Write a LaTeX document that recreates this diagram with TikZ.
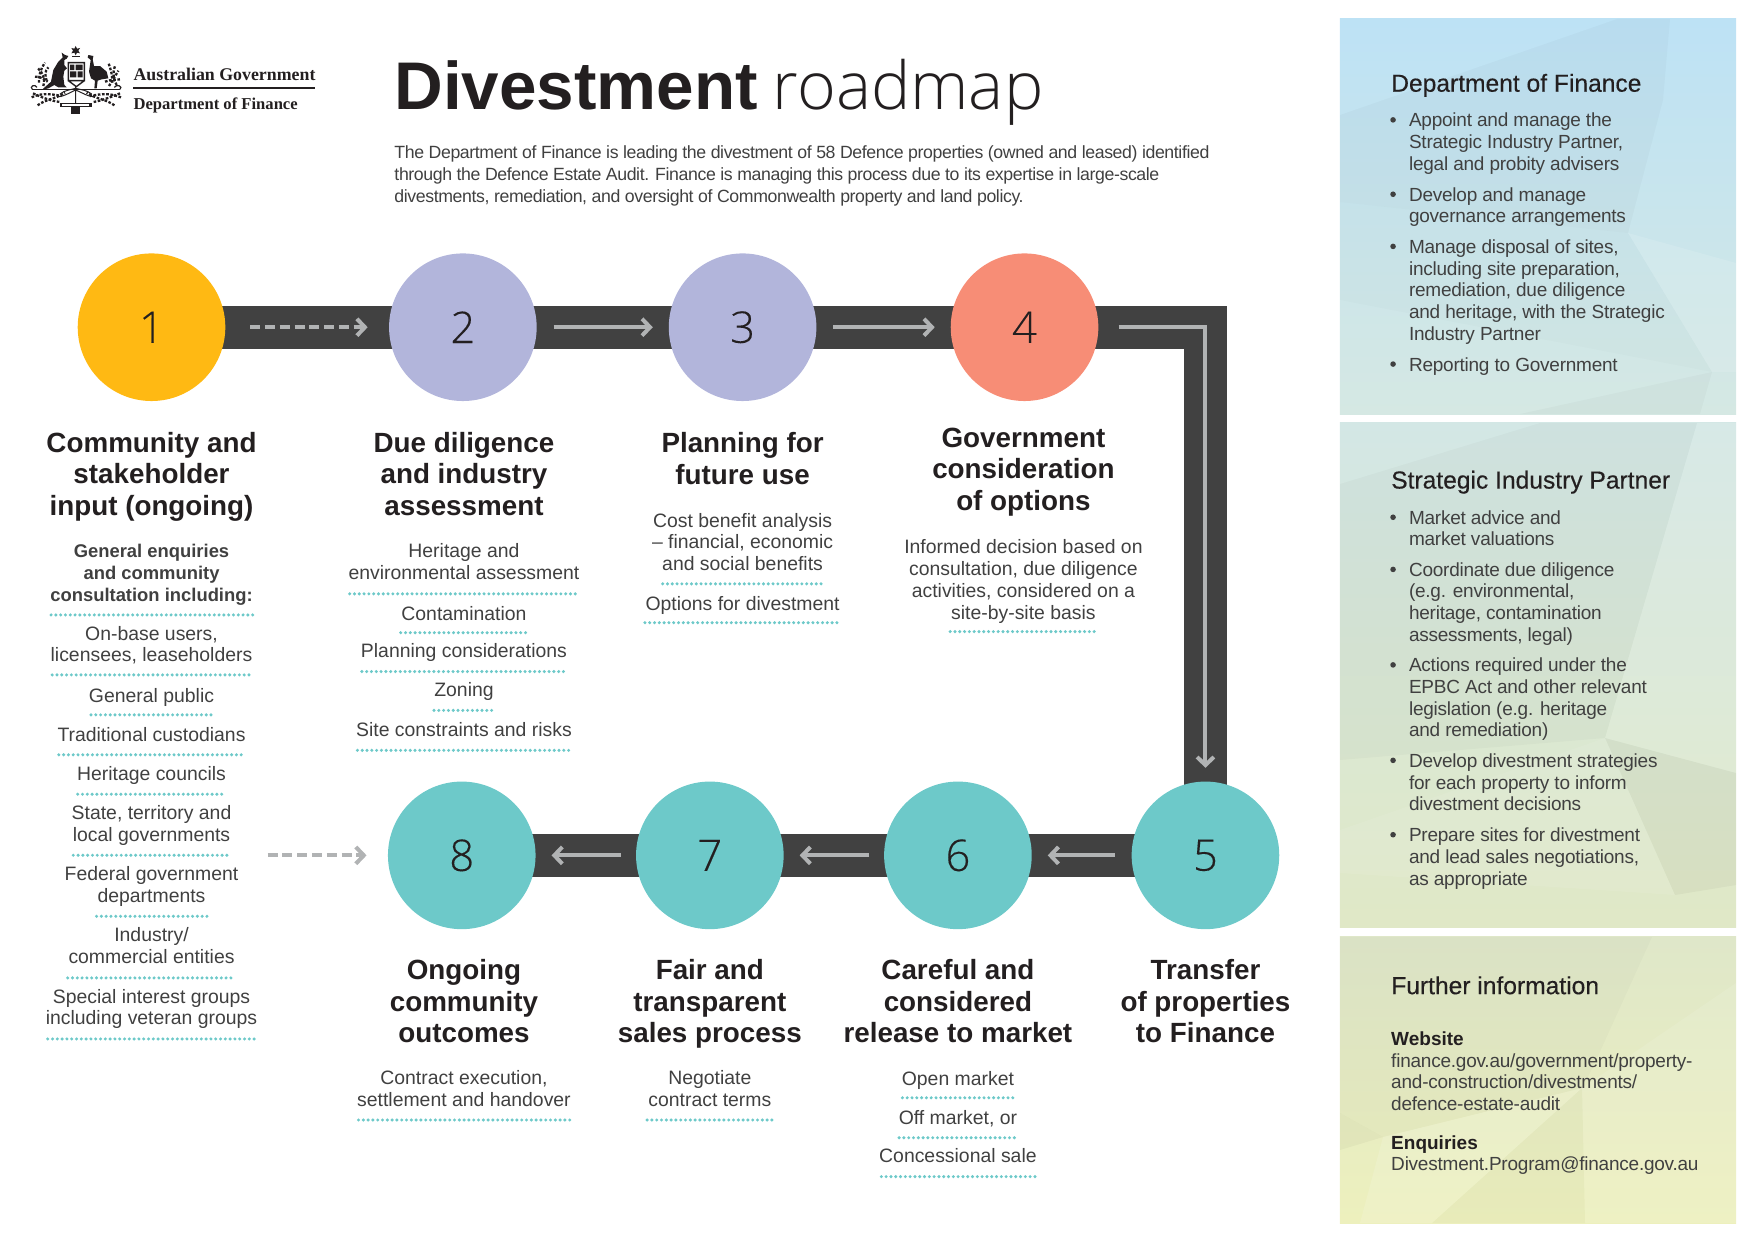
\documentclass[tikz,border=0pt]{standalone}
\usepackage{fontspec}
\usetikzlibrary{arrows.meta,backgrounds}
\setmainfont{Liberation Sans}
\newfontfamily\serifhead{Liberation Serif}
\newfontfamily\lightfont{Open Sans Light}
\newfontfamily\digitfont[FakeBold=0.2]{Open Sans Light}
\newfontfamily\medfont[FakeBold=0.3]{Liberation Sans}
\newfontfamily\leadfont[LetterSpace=-2.2]{Liberation Sans}
\newfontfamily\panelfont[LetterSpace=-1.2]{Liberation Sans}
\definecolor{ink}{HTML}{231F20}
\definecolor{bodyc}{HTML}{404040}
\definecolor{bandc}{HTML}{414141}
\definecolor{flowc}{HTML}{B1B3B4}
\definecolor{tealc}{HTML}{6DC9C9}
\definecolor{yelc}{HTML}{FFB913}
\definecolor{lavc}{HTML}{B2B5DB}
\definecolor{coralc}{HTML}{F78D76}
\definecolor{pa}{HTML}{BDE2F5}
\definecolor{pb}{HTML}{D5E8E3}
\definecolor{pc}{HTML}{D3E7E5}
\definecolor{pd}{HTML}{E0E8C6}
\definecolor{pe}{HTML}{DFE7C9}
\definecolor{pf}{HTML}{EDF0BD}
\tikzset{
 x=0.555pt,y=-0.555pt,
 stepc/.style={circle,minimum size=73.8pt,inner sep=0,font=\digitfont\fontsize{21.8}{22}\selectfont,text=ink},
 bandline/.style={bandc,line width=21.6pt},
 flow/.style={flowc,line width=2pt,-{Straight Barb[length=4pt,width=8.4pt,line width=2pt]}},
 flowd/.style={flow,dash pattern=on 5pt off 2.4pt},
 vfix/.style={execute at begin node={\rule{0pt}{1.1em}},execute at end node={\rule[-.33em]{0pt}{.33em}}},
 mline/.style={yshift=-1.66pt},
 head/.style={vfix,yshift=-2.7pt,align=center,font=\fontsize{13.9}{15.8}\bfseries\selectfont,text=ink,inner sep=0},
 txt/.style={vfix,align=center,font=\fontsize{9.7}{10.9}\selectfont,text=bodyc,inner sep=0},
 txtb/.style={vfix,mline,align=center,font=\fontsize{9.2}{11}\bfseries\selectfont,text=bodyc,inner sep=0},
 dots/.style={tealc,line width=1.7pt,line cap=round,dash pattern=on 0pt off 2.4pt},
 lead/.style={vfix,mline,align=left,anchor=west,font=\leadfont\fontsize{8.85}{10.85}\selectfont,text=bodyc,inner sep=0},
 phead/.style={vfix,yshift=.5pt,anchor=west,font=\medfont\fontsize{12.3}{14}\selectfont,text=ink,inner sep=0},
 pitem/.style={vfix,align=left,anchor=west,font=\panelfont\fontsize{9.5}{10.85}\selectfont,text=bodyc,inner sep=0},
 pbold/.style={vfix,anchor=west,font=\fontsize{9.5}{10.85}\bfseries\selectfont,text=ink,inner sep=0},
 pbul/.style={circle,fill=bodyc,minimum size=2.8pt,inner sep=0},
 dk/.style={fill=black,fill opacity=#1,draw=none},
 lt/.style={fill=white,fill opacity=#1,draw=none},
}
\begin{document}
\begin{tikzpicture}
\useasboundingbox (0,0) rectangle (1568.47,1118.92);
% ---------- side panels
\shade[top color=pa,bottom color=pb] (1207,17) rectangle (1564,373);
\shade[top color=pc,bottom color=pd] (1207,381) rectangle (1564,836);
\shade[top color=pe,bottom color=pf] (1207,844) rectangle (1564,1102);
\begin{scope}[x=0.5pt,y=-0.5pt]
 \begin{scope}
 \clip (1340,19) rectangle (1736,414);
 \path[dk=.022] (1340,115)--(1617,19)--(1670,19)--(1663,100)--(1628,233)--(1340,202)--cycle;
 \path[dk=.012] (1340,202)--(1628,233)--(1712,372)--(1340,300)--cycle;
 \path[lt=.12] (1628,233)--(1736,263)--(1736,372)--(1712,372)--cycle;
 \path[dk=.025] (1712,372)--(1520,414)--(1700,414)--cycle;
 \end{scope}
 \begin{scope}
 \clip (1340,423) rectangle (1736,928);
 \path[dk=.022] (1340,484)--(1540,423)--(1697,423)--(1605,738)--(1340,760)--cycle;
 \path[dk=.035] (1605,738)--(1736,773)--(1736,885)--(1675,895)--cycle;
 \path[lt=.08] (1340,830)--(1605,738)--(1675,895)--(1340,873)--cycle;
 \path[lt=.1] (1697,423)--(1736,423)--(1736,773)--(1605,738)--cycle;
 \end{scope}
 \begin{scope}
 \clip (1340,937) rectangle (1736,1223);
 \path[dk=.02] (1340,937)--(1652,937)--(1593,1067)--(1582,1088)--(1383,1137)--(1340,1113)--cycle;
 \path[lt=.1] (1582,1088)--(1736,983)--(1736,1223)--(1585,1223)--cycle;
 \path[dk=.02] (1432,1223)--(1582,1088)--(1585,1223)--cycle;
 \path[lt=.13] (1360,1223)--(1383,1137)--(1582,1088)--(1432,1223)--cycle;
 \path[dk=.03] (1340,1113)--(1383,1137)--(1340,1150)--cycle;
 \end{scope}
\end{scope}
% ---------- crest
\begin{scope}[x=0.1667pt,y=-0.1667pt,shift={(12.5pt,-20pt)}]
 \fill[ink] (110,38)--(120,45)--(130,48)--(125,56)--(118,60)--(118,75)--(126,85)--(118,92)--(115,110)--(118,135)--(125,142)--(100,142)--(88,135)--(70,145)--(50,150)--(78,125)--(85,90)--(100,65)--(113,52)--cycle;
 \fill[ink] (190,45)--(205,48)--(203,58)--(207,78)--(225,78)--(245,95)--(250,115)--(230,118)--(218,122)--(215,145)--(208,145)--(210,122)--(198,115)--(192,95)--(197,60)--(188,52)--cycle;
 \fill[ink] (152,18)--(156,26)--(165,24)--(160,32)--(165,40)--(156,38)--(152,46)--(148,38)--(139,40)--(144,32)--(139,24)--(148,26)--cycle;
 \fill[ink] (140,47) rectangle (164,51);
 \draw[ink,line width=.7pt] (130,68) rectangle (178,122) (178,122)--(154,140)--(130,122);
 \fill[ink] (135,74) rectangle (148,90) (152,74) rectangle (173,90) (135,94) rectangle (154,112) (158,94) rectangle (173,112);
 \draw[ink,line width=.6pt] (22,148)--(285,148);
 \draw[ink,line width=.6pt] (22,148) .. controls (12,140) and (30,130) .. (36,142);
 \draw[ink,line width=.6pt] (285,148) .. controls (295,140) and (275,130) .. (268,142);
 \begin{scope}[ink,line width=1.15pt,dash pattern=on 1.3pt off .8pt]
  \draw (42,128) .. controls (42,105) and (45,90) .. (60,68);
  \draw (55,138) .. controls (62,115) and (52,95) .. (36,82);
  \draw (65,122) .. controls (60,105) and (58,95) .. (70,82);
  \draw (30,110) .. controls (45,110) and (55,115) .. (68,125);
  \draw (262,128) .. controls (262,105) and (258,90) .. (250,68);
  \draw (252,138) .. controls (262,120) and (270,110) .. (280,92);
  \draw (240,125) .. controls (258,118) and (272,120) .. (285,118);
  \draw (275,135) .. controls (265,120) and (262,100) .. (270,78);
  \draw (20,172) .. controls (45,160) and (70,160) .. (110,168);
  \draw (38,196) .. controls (60,178) and (90,178) .. (120,158);
  \draw (24,160) .. controls (50,172) and (75,182) .. (105,186);
  \draw (288,172) .. controls (255,160) and (235,160) .. (195,168);
  \draw (268,196) .. controls (245,178) and (215,178) .. (185,158);
  \draw (285,160) .. controls (255,172) and (230,182) .. (205,186);
 \end{scope}
 \draw[ink,line width=.5pt] (152,138)--(152,200) (152,145)..controls(135,150)and(120,150)..(105,162) (152,145)..controls(170,150)and(185,150)..(200,162) (152,150)..controls(130,160)and(115,170)..(100,170) (152,150)..controls(175,160)and(190,170)..(205,170);
 \fill[ink] (105,188) rectangle (200,202);
 \fill[ink] (138,202) rectangle (166,222);
 \fill[white] (112,193) rectangle (193,197);
\end{scope}
\node[anchor=base west,inner sep=0,font=\serifhead\fontsize{8.92}{10}\bfseries\selectfont,text=ink] (govname) at (120,72.3) {Australian Government};
\node[anchor=base west,inner sep=0,font=\serifhead\fontsize{8.3}{10}\bfseries\selectfont,text=ink] (deptname) at (120,99) {Department of Finance};
\draw[ink,line width=.9pt] (120,79.5)--(284,79.5);
% ---------- title
\node[anchor=base west,inner sep=0,text=ink,font=\fontsize{33.7}{36}\selectfont] (title) at (355,99) {\bfseries Divestment\hspace{7.5pt}{\mdseries\lightfont\fontsize{33.1}{36}\selectfont roadmap}};
\node[lead] (intro) at (355,156.5) {The Department of Finance is leading the divestment of 58 Defence properties (owned and leased) identified\\through the Defence Estate Audit. Finance is managing this process due to its expertise in large-scale\\divestments, remediation, and oversight of Commonwealth property and land policy.};
% ---------- steps
\node[stepc,fill=yelc] (c1) at (136.5,294.8) {1};
\node[stepc,fill=lavc] (c2) at (417,294.8) {2};
\node[stepc,fill=lavc] (c3) at (669,294.8) {3};
\node[stepc,fill=coralc] (c4) at (923,294.8) {4};
\node[stepc,fill=tealc] (c5) at (1086,770.6) {5};
\node[stepc,fill=tealc] (c6) at (863,770.6) {6};
\node[stepc,fill=tealc] (c7) at (639.5,770.6) {7};
\node[stepc,fill=tealc] (c8) at (416,770.6) {8};
\coordinate (ext) at (241,770.6);
\begin{pgfonlayer}{background}
 \draw[bandline,line join=miter] (c1.center)--(c2.center)--(c3.center)--(c4.center)-|(c5.center)--(c6.center)--(c7.center)--(c8.center);
\end{pgfonlayer}
\draw[flowd,shorten <=12.2pt,shorten >=10.5pt] (c1)--(c2);
\draw[flow,shorten <=8.3pt,shorten >=7.8pt] (c2)--(c3);
\draw[flow,shorten <=8.3pt,shorten >=7.8pt] (c3)--(c4);
\draw[flow,line join=miter,shorten <=10pt,shorten >=6.7pt] (c4)-|(c5);
\draw[flow,shorten <=8.3pt,shorten >=7.8pt] (c5)--(c6);
\draw[flow,shorten <=7.2pt,shorten >=7.8pt] (c6)--(c7);
\draw[flow,shorten <=7.2pt,shorten >=7.8pt] (c7)--(c8);
\draw[flowd,shorten >=10.5pt] (ext)--(c8);
% ---------- headings
\node[head] (h1) at (136.5,426) {Community and\\stakeholder\\input (ongoing)};
\node[head] (h2) at (418,426) {Due diligence\\and industry\\assessment};
\node[head] (h3) at (669,412.5) {Planning for\\future use};
\node[head] (h4) at (922,422) {Government\\consideration\\of options};
\node[head] (h5) at (1086,901) {Transfer\\of properties\\to Finance};
\node[head] (h6) at (863,901) {Careful and\\considered\\release to market};
\node[head] (h7) at (639.5,901) {Fair and\\transparent\\sales process};
\node[head] (h8) at (418,901) {Ongoing\\community\\outcomes};
% ---------- column 1
\node[txtb] (t1a) at (136.5,516) {General enquiries\\and community\\consultation including:};
\node[txt,mline] (t1b) at (136.5,580) {On-base users,\\licensees, leaseholders};
\node[txt] (t1c) at (136.5,626) {General public};
\node[txt] (t1d) at (136.5,661) {Traditional custodians};
\node[txt] (t1e) at (136.5,696) {Heritage councils};
\node[txt,mline] (t1f) at (136.5,741.5) {State, territory and\\local governments};
\node[txt,mline] (t1g) at (136.5,797) {Federal government\\departments};
\node[txt,mline] (t1h) at (136.5,852) {Industry/\\commercial entities};
\node[txt,mline] (t1i) at (136.5,907) {Special interest groups\\including veteran groups};
% ---------- column 2
\node[txt,mline] (t2a) at (418,506) {Heritage and\\environmental assessment};
\node[txt] (t2b) at (418,552) {Contamination};
\node[txt] (t2c) at (418,586) {Planning considerations};
\node[txt] (t2d) at (418,621) {Zoning};
\node[txt] (t2e) at (418,657) {Site constraints and risks};
% ---------- column 3
\node[txt,mline] (t3a) at (669,488) {Cost benefit analysis\\– financial, economic\\and social benefits};
\node[txt] (t3b) at (669,543) {Options for divestment};
% ---------- column 4
\node[txt,mline] (t4a) at (922,522) {Informed decision based on\\consultation, due diligence\\activities, considered on a\\site-by-site basis};
% ---------- bottom columns
\node[txt,mline] (t8a) at (418,980.5) {Contract execution,\\settlement and handover};
\node[txt,mline] (t7a) at (639.5,980.5) {Negotiate\\contract terms};
\node[txt] (t6a) at (863,971) {Open market};
\node[txt] (t6b) at (863,1006) {Off market, or};
\node[txt] (t6c) at (863,1041) {Concessional sale};
% ---------- dotted rules
\foreach \yy/\aa/\bb in {554/46/228,608/47/226,644/82/192,680/53/221,715.5/70/204,770.5/66/208,825.5/87/187,881/61/212,936/43/231,
 535/315/522,570/361/475,605/326/511,640/391/445,676/322/514,
 526/597/741,561/581/757,569/856/987,
 1009/323/514,1009/583/696,989/813/913,1025/810/916,1060/794/933}
 \draw[dots] (\aa,\yy)--(\bb,\yy);
% ---------- panel 1
\node[phead] (ph1) at (1253,75) {Department of Finance};
\node[pbul] (b11) at (1255,108) {};
\node[pitem,mline] (p11) at (1269,127.5) {Appoint and manage the\\Strategic Industry Partner,\\legal and probity advisers};
\node[pbul] (b12) at (1255,175) {};
\node[pitem,mline] (p12) at (1269,184.5) {Develop and manage\\governance arrangements};
\node[pbul] (b13) at (1255,222) {};
\node[pitem,mline] (p13) at (1269,261) {Manage disposal of sites,\\including site preparation,\\remediation, due diligence\\and heritage, with the Strategic\\Industry Partner};
\node[pbul] (b14) at (1255,328) {};
\node[pitem] (p14) at (1269,328) {Reporting to Government};
% ---------- panel 2
\node[phead] (ph2) at (1253,432.5) {Strategic Industry Partner};
\node[pbul] (b21) at (1255,466) {};
\node[pitem,mline] (p21) at (1269,475.5) {Market advice and\\market valuations};
\node[pbul] (b22) at (1255,513) {};
\node[pitem,mline] (p22) at (1269,542) {Coordinate due diligence\\(e.g. environmental,\\heritage, contamination\\assessments, legal)};
\node[pbul] (b23) at (1255,599) {};
\node[pitem,mline] (p23) at (1269,628) {Actions required under the\\EPBC Act and other relevant\\legislation (e.g. heritage\\and remediation)};
\node[pbul] (b24) at (1255,685) {};
\node[pitem,mline] (p24) at (1269,704.5) {Develop divestment strategies\\for each property to inform\\divestment decisions};
\node[pbul] (b25) at (1255,752) {};
\node[pitem,mline] (p25) at (1269,771.5) {Prepare sites for divestment\\and lead sales negotiations,\\as appropriate};
% ---------- panel 3
\node[phead] (ph3) at (1253,888) {Further information};
\node[pbold] (w1) at (1253,935) {Website};
\node[pitem,mline] (w2) at (1253,974.5) {finance.gov.au/government/property-\\and-construction/divestments/\\defence-estate-audit};
\node[pbold] (e1) at (1253,1029) {Enquiries};
\node[pitem] (e2) at (1253,1048) {Divestment.Program@finance.gov.au};
\end{tikzpicture}
\end{document}
